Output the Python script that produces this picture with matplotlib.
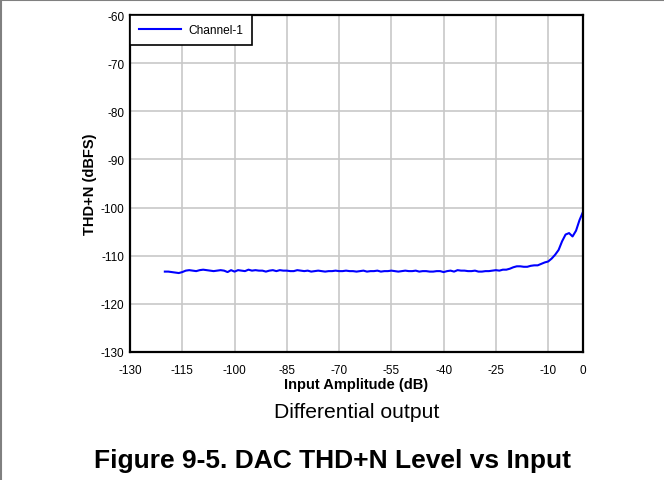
import matplotlib
matplotlib.use("Agg")
import matplotlib.pyplot as plt
from matplotlib.lines import Line2D

plt.rcParams['font.family'] = ['Liberation Sans', 'DejaVu Sans']
plt.rcParams['axes.unicode_minus'] = False

# input amplitude (dB) and THD+N (dBFS)
input_db = [-120, -119, -118, -117, -116, -115, -114, -113, -112, -111,
            -110, -109, -108, -107, -106, -105, -104, -103, -102, -101,
            -100, -99, -98, -97, -96, -95, -94, -93, -92, -91,
            -90, -89, -88, -87, -86, -85, -84, -83, -82, -81,
            -80, -79, -78, -77, -76, -75, -74, -73, -72, -71,
            -70, -69, -68, -67, -66, -65, -64, -63, -62, -61,
            -60, -59, -58, -57, -56, -55, -54, -53, -52, -51,
            -50, -49, -48, -47, -46, -45, -44, -43, -42, -41,
            -40, -39, -38, -37, -36, -35, -34, -33, -32, -31,
            -30, -29, -28, -27, -26, -25, -24, -23, -22, -21,
            -20, -19, -18, -17, -16, -15, -14, -13, -12, -11,
            -10, -9, -8, -7, -6, -5, -4, -3, -2, -1, 0]
thdn_ch1 = [-113.3, -113.3, -113.4, -113.5, -113.6, -113.4, -113.1, -113.0, -113.1, -113.2,
            -113.0, -112.9, -113.0, -113.1, -113.2, -113.1, -113.0, -113.1, -113.4, -113.0,
            -113.3, -113.0, -113.1, -113.2, -112.9, -113.1, -113.0, -113.1, -113.1, -113.3,
            -113.1, -113.0, -113.2, -113.0, -113.1, -113.1, -113.2, -113.2, -113.0, -113.1,
            -113.2, -113.1, -113.3, -113.2, -113.1, -113.2, -113.3, -113.2, -113.2, -113.1,
            -113.2, -113.2, -113.1, -113.2, -113.2, -113.3, -113.2, -113.1, -113.3, -113.2,
            -113.2, -113.1, -113.3, -113.2, -113.2, -113.1, -113.2, -113.3, -113.2, -113.1,
            -113.2, -113.2, -113.1, -113.3, -113.2, -113.2, -113.3, -113.3, -113.2, -113.2,
            -113.4, -113.2, -113.1, -113.3, -113.0, -113.1, -113.1, -113.2, -113.2, -113.1,
            -113.3, -113.3, -113.2, -113.2, -113.1, -113.0, -113.1, -112.9, -112.9, -112.7,
            -112.4, -112.2, -112.2, -112.3, -112.3, -112.1, -112.0, -112.0, -111.7, -111.4,
            -111.2, -110.6, -109.8, -108.8, -107.0, -105.6, -105.3, -106.0, -104.8, -102.6, -100.9]

x_ticks = [-130, -115, -100, -85, -70, -55, -40, -25, -10, 0]
y_ticks = [-60, -70, -80, -90, -100, -110, -120, -130]

fig = plt.figure(figsize=(6.64, 4.81), dpi=100)
ax = fig.add_axes([130 / 664, 128 / 481, 453 / 664, 337 / 481])

ax.plot(input_db, thdn_ch1, color='#0000ff', lw=1.5, label='Channel-1')

ax.set_xlim(-130, 0)
ax.set_ylim(-130, -60)
ax.set_xticks(x_ticks)
ax.set_yticks(y_ticks)
ax.grid(True, color='#c8c8c8', lw=1.2)
ax.set_axisbelow(True)
ax.tick_params(length=0, labelsize=8.5)
ax.tick_params(axis='x', pad=8.5)
ax.tick_params(axis='y', pad=4)
for s in ax.spines.values():
    s.set_linewidth(1.6)
    s.set_color('black')

ax.set_xlabel('Input Amplitude (dB)', fontsize=10.5, fontweight='bold', labelpad=1)
ax.set_ylabel('THD+N (dBFS)', fontsize=10.5, fontweight='bold', labelpad=3)

leg = ax.legend(loc='upper left', borderaxespad=0, fancybox=False, fontsize=8.6,
                handlelength=3.5, handletextpad=0.6, borderpad=0.75, framealpha=1)
leg.get_frame().set_edgecolor('black')
leg.get_frame().set_linewidth(1.2)

fig.text(357 / 664, 1 - 413 / 481, 'Differential output', fontsize=15.2,
         ha='center', va='center')
fig.text(333 / 664, 1 - 461 / 481, 'Figure 9-5. DAC THD+N Level vs Input', fontsize=19,
         fontweight='bold', ha='center', va='center')

# page frame, top and left edges
fig.add_artist(Line2D([0.001, 0.001], [0, 1], color='#808080', lw=1.5))
fig.add_artist(Line2D([0, 1], [0.998, 0.998], color='#808080', lw=1.5))

fig.savefig('out.png', dpi=100)
